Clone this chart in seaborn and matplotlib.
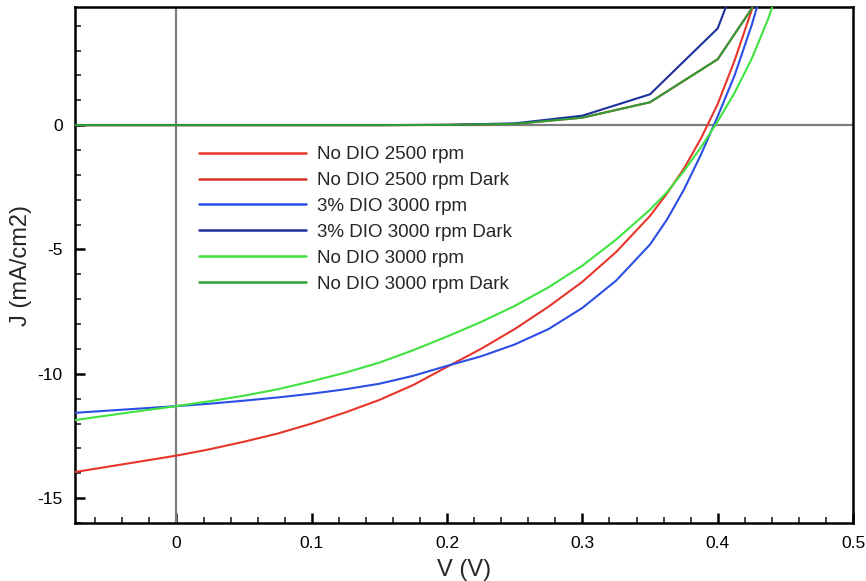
import numpy as np
import pandas as pd
import matplotlib
matplotlib.use("Agg")
import matplotlib.pyplot as plt
from matplotlib.ticker import MultipleLocator, FuncFormatter
import seaborn as sns

# ---- data ----
v_light = [-0.075, -0.05, -0.025, 0.0, 0.025, 0.05, 0.075, 0.1, 0.125, 0.15, 0.175,
           0.2, 0.225, 0.25, 0.275, 0.3, 0.325, 0.35, 0.3625, 0.375, 0.3875, 0.4,
           0.4125, 0.425, 0.4375, 0.45]
j_nodio2500 = [-13.95, -13.73, -13.51, -13.29, -13.03, -12.73, -12.4, -12.0, -11.55, -11.05, -10.45,
               -9.72, -9.0, -8.2, -7.3, -6.3, -5.1, -3.65, -2.75, -1.75, -0.55, 0.85,
               2.6, 4.6, 6.7, 9.0]
j_dio3000 = [-11.57, -11.48, -11.39, -11.3, -11.2, -11.08, -10.95, -10.8, -10.62, -10.4, -10.08,
             -9.68, -9.3, -8.82, -8.2, -7.35, -6.25, -4.8, -3.8, -2.6, -1.2, 0.35,
             2.0, 4.0, 6.3, 9.0]
j_nodio3000 = [-11.86, -11.67, -11.48, -11.3, -11.1, -10.88, -10.62, -10.3, -9.95, -9.55, -9.05,
               -8.5, -7.92, -7.27, -6.52, -5.65, -4.6, -3.4, -2.7, -1.85, -0.9, 0.15,
               1.3, 2.65, 4.3, 6.3]

v_dark = [-0.1, -0.05, 0.0, 0.05, 0.1, 0.15, 0.2, 0.25, 0.3, 0.35, 0.4, 0.45]
j_nodio2500_dark = [0.0, 0.0, 0.0, 0.0, 0.0, 0.0, 0.01, 0.05, 0.3, 0.92, 2.65, 6.7]
j_dio3000_dark = [0.0, 0.0, 0.0, 0.0, 0.0, 0.0, 0.01, 0.07, 0.38, 1.24, 3.89, 11.0]
j_nodio3000_dark = [0.0, 0.0, 0.0, 0.0, 0.0, 0.0, 0.01, 0.05, 0.3, 0.92, 2.65, 6.7]

labels = ["No DIO 2500 rpm", "No DIO 2500 rpm Dark", "3% DIO 3000 rpm",
          "3% DIO 3000 rpm Dark", "No DIO 3000 rpm", "No DIO 3000 rpm Dark"]
colors = ["#e8352b", "#d8332a", "#2b4ee6", "#1d2f9c", "#3fe23f", "#2f9d35"]

series = [(v_light, j_nodio2500), (v_dark, j_nodio2500_dark),
          (v_light, j_dio3000), (v_dark, j_dio3000_dark),
          (v_light, j_nodio3000), (v_dark, j_nodio3000_dark)]

# ---- plot ----
sns.set_style("white")
plt.rcParams['font.family'] = ['Liberation Sans', 'DejaVu Sans']

fig = plt.figure(figsize=(8.66, 5.81), dpi=100)
ax = fig.add_axes([75/866, 1-523/581, (853-75)/866, (523-7)/581])

ax.axhline(0, color="#7f7f7f", lw=1.6, zorder=1)
ax.axvline(0, color="#7f7f7f", lw=1.6, zorder=1)

for (vx, jy), lab, col in zip(series, labels, colors):
    df = pd.DataFrame({"V": vx, "J": jy})
    sns.lineplot(data=df, x="V", y="J", color=col, lw=1.5, label=lab,
                 sort=False, ax=ax, zorder=3)

ax.set_xlim(-0.075, 0.5)
ax.set_ylim(-16, 4.75)

ax.xaxis.set_major_locator(MultipleLocator(0.1))
ax.xaxis.set_minor_locator(MultipleLocator(0.02))
ax.yaxis.set_major_locator(MultipleLocator(5))
ax.yaxis.set_minor_locator(MultipleLocator(1))
ax.xaxis.set_major_formatter(FuncFormatter(lambda x, p: "0" if abs(x) < 1e-9 else f"{x:g}"))
ax.yaxis.set_major_formatter(FuncFormatter(lambda y, p: f"{y:g}"))

ax.tick_params(axis="both", which="major", direction="in", length=7, width=1.8,
               labelsize=12.5, colors="black", pad=9, bottom=True, left=True, top=False, right=False)
ax.tick_params(axis="both", which="minor", direction="in", length=4, width=1.2,
               bottom=True, left=True, top=False, right=False)

for s in ax.spines.values():
    s.set_visible(True)
    s.set_color("black")
    s.set_linewidth(1.8)

ax.set_xlabel("V (V)", fontsize=17, labelpad=6)
ax.set_ylabel("J (mA/cm2)", fontsize=17, labelpad=4)

leg = ax.legend(loc="upper left", bbox_to_anchor=(199/866, 1-146/581),
                bbox_transform=fig.transFigure, frameon=False, fontsize=13.5,
                handlelength=5.7, handletextpad=0.6, labelspacing=0.47,
                borderpad=0, borderaxespad=0)
for line in leg.get_lines():
    line.set_linewidth(1.8)

fig.savefig("out.png", dpi=100)
